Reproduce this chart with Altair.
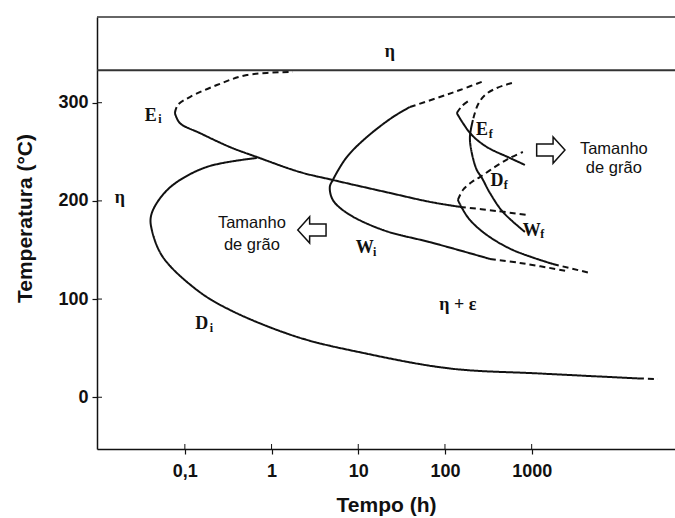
import altair as alt
import pandas as pd

# ---- axes -------------------------------------------------------------
W, H = 578, 432
T_DOMAIN = [-52.7, 387.3]          # temperature, °C
t_DOMAIN = [0.0097, 45000]         # time, h (log)
x_tick_values = [0.1, 1, 10, 100, 1000]
x_tick_labels = ["0,1", "1", "10", "100", "1000"]
y_tick_values = [0, 100, 200, 300]
eta_boundary = [333]               # upper eta field limit

# ---- transformation curves (time h, temperature °C) --------------------
ei_solid_t = [0.0767, 0.0875, 0.149, 0.330, 0.676, 2.12, 5.09, 23.1, 67.0, 149]
ei_solid_T = [289.5, 279.3, 269.1, 254.9, 244.7, 229.4, 221.3, 208.1, 199.0, 193.9]
ei_dash_up_t = [0.0767, 0.0830, 0.1142, 0.234, 0.519, 1.76]
ei_dash_up_T = [289.5, 297.7, 305.8, 318.0, 328.2, 331.3]
ei_dash_rt_t = [149, 397, 881]
ei_dash_rt_T = [193.9, 189.7, 185.7]

di_solid_t = [0.676, 0.1795, 0.0728, 0.0475, 0.0405, 0.0416, 0.0557, 0.1376,
              0.330, 1.96, 11.3, 114, 1245, 16800]
di_solid_T = [243.7, 234.6, 216.2, 197.9, 183.6, 170.4, 142.9, 109.3,
              89.0, 61.5, 45.2, 29.3, 24.2, 19.2]
di_dash_t = [16800, 28600]
di_dash_T = [19.2, 18.6]

wi_dash_up_t = [39.4, 87.3, 149, 281]
wi_dash_up_T = [295.6, 305.8, 312.9, 322.1]
wi_solid_t = [39.4, 25.1, 12.6, 7.39, 5.09, 4.70, 5.09, 7.39, 19.2, 72.5, 330]
wi_solid_T = [295.6, 285.4, 265.1, 244.7, 221.3, 214.2, 201.0, 187.7, 170.4, 157.2, 140.9]
wi_dash_lo_t = [330, 731, 2546]
wi_dash_lo_T = [140.9, 136.8, 128.6]

df_dash_up_t = [141, 161, 204, 253, 377, 561, 792]
df_dash_up_T = [201, 211.1, 219.2, 224.3, 234.6, 243.7, 249.8]
df_solid_t = [141, 157, 194, 304, 607, 1757]
df_solid_T = [201, 192.8, 180.6, 165.3, 150.0, 135.7]
df_dash_lo_t = [1757, 4690]
df_dash_lo_T = [135.7, 126.6]

ef_dash_t = [137, 157, 194]
ef_dash_T = [289.5, 296.6, 302.8]
ef_solid_t = [137, 161, 204, 304, 561, 836]
ef_solid_T = [289.5, 279.3, 267.1, 254.9, 243.7, 236.6]

wf_dash_t = [592, 397, 289, 239, 210]
wf_dash_T = [320.1, 315.0, 307.8, 297.7, 282.4]
wf_solid_t = [210, 194, 204, 233, 267, 330, 466, 836]
wf_solid_T = [282.4, 265.1, 248.8, 231.5, 223.3, 208.1, 188.7, 168.4]

segments = [
    ("ei_s", "solid", ei_solid_t, ei_solid_T),
    ("ei_du", "dash", ei_dash_up_t, ei_dash_up_T),
    ("ei_dr", "dash", ei_dash_rt_t, ei_dash_rt_T),
    ("di_s", "solid", di_solid_t, di_solid_T),
    ("di_d", "dash", di_dash_t, di_dash_T),
    ("wi_du", "dash", wi_dash_up_t, wi_dash_up_T),
    ("wi_s", "solid", wi_solid_t, wi_solid_T),
    ("wi_dl", "dash", wi_dash_lo_t, wi_dash_lo_T),
    ("df_du", "dash", df_dash_up_t, df_dash_up_T),
    ("df_s", "solid", df_solid_t, df_solid_T),
    ("df_dl", "dash", df_dash_lo_t, df_dash_lo_T),
    ("ef_d", "dash", ef_dash_t, ef_dash_T),
    ("ef_s", "solid", ef_solid_t, ef_solid_T),
    ("wf_d", "dash", wf_dash_t, wf_dash_T),
    ("wf_s", "solid", wf_solid_t, wf_solid_T),
]

# ---- labels -------------------------------------------------------------
field_text = ["η", "η", "η + ε"]
field_t = [23.1, 0.01778, 141]
field_T = [351.6, 203.0, 94.1]

curve_letter = ["E", "D", "W", "E", "D", "W"]
curve_letter_t = [0.0405, 0.157, 11.9, 267, 397, 1005]
curve_letter_T = [286.5, 74.8, 152.1, 272.2, 220.3, 169.4]
curve_sub = ["i", "i", "i", "f", "f", "f"]
curve_sub_t = [0.0515, 0.2023, 15.5, 338, 504, 1328]
curve_sub_T = [283.3, 70.6, 148.0, 268.1, 216.2, 166.3]

note_lines = ["Tamanho", "de grão", "Tamanho", "de grão"]
note_t = [0.593, 0.593, 8870, 8870]
note_T = [177.5, 155.1, 252.9, 233.5]

arrow_dir = ["left", "right"]
arrow_t = [2.92, 1663]
arrow_T = [170.4, 251.8]

# ---- build tables -------------------------------------------------------
rows = []
for name, style, ts, temps in segments:
    for i, (a, b) in enumerate(zip(ts, temps)):
        rows.append({"seg": name, "style": style, "order": i, "t": a, "T": b})
curves = pd.DataFrame(rows)

fields = pd.DataFrame({"txt": field_text, "t": field_t, "T": field_T})
letters = pd.DataFrame({"txt": curve_letter, "t": curve_letter_t, "T": curve_letter_T})
subs = pd.DataFrame({"txt": curve_sub, "t": curve_sub_t, "T": curve_sub_T})
notes = pd.DataFrame({"txt": note_lines, "t": note_t, "T": note_T})
arrows = pd.DataFrame({"dir": arrow_dir, "t": arrow_t, "T": arrow_T})

label_expr = "".join(
    f"datum.value == {v} ? '{l}' : " for v, l in zip(x_tick_values, x_tick_labels)
) + "''"

SANS = "Liberation Sans"
SERIF = "Liberation Serif"

x_enc = alt.X(
    "t:Q",
    scale=alt.Scale(type="log", domain=t_DOMAIN, nice=False),
    axis=alt.Axis(
        values=x_tick_values, labelExpr=label_expr, title="Tempo (h)",
        grid=False, tickSize=5, labelPadding=8,
        titleX=W / 2, titleY=56, titleBaseline="middle", titleAlign="center",
    ),
)
y_enc = alt.Y(
    "T:Q",
    scale=alt.Scale(domain=T_DOMAIN, nice=False, zero=False),
    axis=alt.Axis(
        values=y_tick_values, title="Temperatura (°C)", grid=False,
        tickSize=5, labelPadding=4,
        titleX=-72, titleY=201, titleAngle=270,
        titleBaseline="middle", titleAlign="center",
    ),
)

lines = alt.Chart(curves).mark_line(
    interpolate="catmull-rom", color="#111", strokeWidth=2
).encode(
    x=x_enc, y=y_enc, detail="seg:N", order="order:Q",
    strokeDash=alt.StrokeDash(
        "style:N",
        scale=alt.Scale(domain=["solid", "dash"], range=[[1, 0], [6, 4]]),
        legend=None,
    ),
)

eta_line = alt.Chart(pd.DataFrame({"T": eta_boundary})).mark_rule(
    color="#333", strokeWidth=2
).encode(y=y_enc, x=alt.value(0), x2=alt.value(W))

top_border = alt.Chart(pd.DataFrame({"T": [T_DOMAIN[1]]})).mark_rule(
    color="#333", strokeWidth=1.5
).encode(y=y_enc, x=alt.value(0), x2=alt.value(W))

# inner halves of the tick marks
y_in = alt.Chart(pd.DataFrame({"T": y_tick_values})).mark_rule(
    color="#111", strokeWidth=1
).encode(y=y_enc, x=alt.value(0), x2=alt.value(5))
x_in = alt.Chart(pd.DataFrame({"t": x_tick_values})).mark_rule(
    color="#111", strokeWidth=1
).encode(x=x_enc, y=alt.value(H), y2=alt.value(H - 5))

field_lbl = alt.Chart(fields).mark_text(
    font=SERIF, fontWeight="bold", fontSize=18, color="#111"
).encode(x=x_enc, y=y_enc, text="txt:N")

letter_lbl = alt.Chart(letters).mark_text(
    font=SERIF, fontWeight="bold", fontSize=18, color="#111"
).encode(x=x_enc, y=y_enc, text="txt:N")

sub_lbl = alt.Chart(subs).mark_text(
    font=SERIF, fontWeight="bold", fontSize=12, color="#111"
).encode(x=x_enc, y=y_enc, text="txt:N")

note_lbl = alt.Chart(notes).mark_text(
    font=SANS, fontSize=16.5, color="#111"
).encode(x=x_enc, y=y_enc, text="txt:N")

LEFT_ARROW = "M-1,0 L-0.16,-0.93 L-0.16,-0.43 L1,-0.43 L1,0.43 L-0.16,0.43 L-0.16,0.93 Z"
RIGHT_ARROW = "M1,0 L0.16,-0.93 L0.16,-0.43 L-1,-0.43 L-1,0.43 L0.16,0.43 L0.16,0.93 Z"

arrow_marks = alt.Chart(arrows).mark_point(
    filled=False, color="#111", strokeWidth=1.5, size=800, opacity=1
).encode(
    x=x_enc, y=y_enc,
    shape=alt.Shape(
        "dir:N",
        scale=alt.Scale(domain=["left", "right"], range=[LEFT_ARROW, RIGHT_ARROW]),
        legend=None,
    ),
)

chart = alt.layer(
    top_border, eta_line, lines, y_in, x_in,
    field_lbl, letter_lbl, sub_lbl, note_lbl, arrow_marks,
).properties(
    width=W, height=H,
    autosize=alt.AutoSizeParams(type="none"),
    padding={"left": 97, "top": 17, "right": 0, "bottom": 69},
).configure_view(
    stroke=None
).configure_axis(
    domainColor="#111", domainWidth=1.5, tickColor="#111", tickWidth=1.2,
    labelFont=SANS, labelFontWeight="bold", labelFontSize=18, labelColor="#111",
    titleFont=SANS, titleFontWeight="bold", titleFontSize=21, titleColor="#111",
)

chart.save("out.html", embed_options={"renderer": "svg", "actions": False})
